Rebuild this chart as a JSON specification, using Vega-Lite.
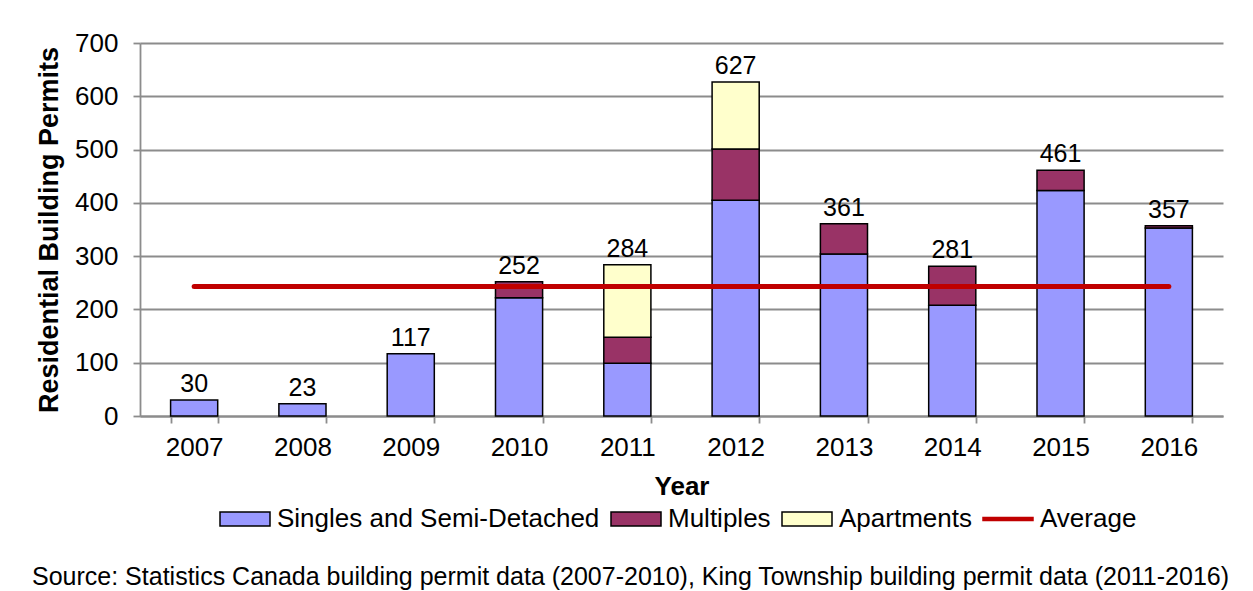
{
  "$schema": "https://vega.github.io/schema/vega-lite/v6.json",
  "width": 1083,
  "height": 373,
  "autosize": {"type": "none"},
  "padding": {"left": 140, "top": 43, "right": 30, "bottom": 175},
  "background": "white",
  "config": {
    "font": "Liberation Sans",
    "view": {"stroke": null},
    "axis": {
      "labelFont": "Liberation Sans",
      "labelFontSize": 26,
      "labelColor": "black",
      "titleFont": "Liberation Sans",
      "titleFontSize": 26,
      "titleFontWeight": "bold",
      "titleColor": "black",
      "domainColor": "#8c8c8c",
      "domainWidth": 1.8,
      "tickColor": "#8c8c8c",
      "tickWidth": 1.8,
      "tickSize": 7,
      "gridColor": "#8c8c8c",
      "gridWidth": 1.8
    },
    "legend": {
      "labelFont": "Liberation Sans",
      "labelFontSize": 26,
      "labelColor": "black",
      "labelLimit": 600
    }
  },
  "title": {
    "text": "Source: Statistics Canada building permit data (2007-2010), King Township building permit data (2011-2016)",
    "orient": "bottom",
    "anchor": "start",
    "frame": "group",
    "font": "Liberation Sans",
    "fontSize": 25,
    "fontWeight": "normal",
    "color": "black",
    "dx": -108,
    "offset": 33
  },
  "datasets": {
    "permits": [
      {"year": "2007", "type": "Singles and Semi-Detached", "permits": 30},
      {"year": "2008", "type": "Singles and Semi-Detached", "permits": 23},
      {"year": "2009", "type": "Singles and Semi-Detached", "permits": 117},
      {"year": "2010", "type": "Singles and Semi-Detached", "permits": 222},
      {"year": "2010", "type": "Multiples", "permits": 30},
      {"year": "2011", "type": "Singles and Semi-Detached", "permits": 99},
      {"year": "2011", "type": "Multiples", "permits": 49},
      {"year": "2011", "type": "Apartments", "permits": 136},
      {"year": "2012", "type": "Singles and Semi-Detached", "permits": 405},
      {"year": "2012", "type": "Multiples", "permits": 96},
      {"year": "2012", "type": "Apartments", "permits": 126},
      {"year": "2013", "type": "Singles and Semi-Detached", "permits": 304},
      {"year": "2013", "type": "Multiples", "permits": 57},
      {"year": "2014", "type": "Singles and Semi-Detached", "permits": 208},
      {"year": "2014", "type": "Multiples", "permits": 73},
      {"year": "2015", "type": "Singles and Semi-Detached", "permits": 423},
      {"year": "2015", "type": "Multiples", "permits": 38},
      {"year": "2016", "type": "Singles and Semi-Detached", "permits": 353},
      {"year": "2016", "type": "Multiples", "permits": 4}
    ],
    "average": [
      {"from": "2007", "to": "2016", "avg": 243}
    ]
  },
  "layer": [
    {
      "data": {"name": "permits"},
      "mark": {"type": "bar", "stroke": "black", "strokeWidth": 1.5},
      "encoding": {
        "x": {
          "field": "year",
          "type": "ordinal",
          "title": "Year",
          "scale": {"paddingInner": 0.565, "paddingOuter": 0.2825},
          "axis": {"labelAngle": 0, "tickBand": "extent", "labelPadding": 11, "titlePadding": 13, "grid": false}
        },
        "y": {
          "field": "permits",
          "type": "quantitative",
          "stack": "zero",
          "title": "Residential Building Permits",
          "scale": {"domain": [0, 700], "nice": false},
          "axis": {"values": [0, 100, 200, 300, 400, 500, 600, 700], "grid": true, "labelPadding": 15, "titlePadding": 11, "titleFontSize": 27}
        },
        "color": {
          "field": "type",
          "type": "nominal",
          "sort": ["Singles and Semi-Detached", "Multiples", "Apartments"],
          "scale": {
            "domain": ["Singles and Semi-Detached", "Multiples", "Apartments", "Average"],
            "range": ["#9999FF", "#993366", "#FFFFCC", "#C00000"]
          },
          "legend": {
            "title": null,
            "orient": "none",
            "direction": "horizontal",
            "legendX": 79,
            "legendY": 450,
            "padding": 0,
            "symbolType": "M-1,-0.28H1V0.28H-1Z",
            "symbolSize": 2500,
            "symbolStrokeColor": "black",
            "symbolStrokeWidth": 1.5,
            "labelOffset": 6,
            "columnPadding": 8,
            "encode": {
              "symbols": {
                "update": {
                  "shape": {"signal": "datum.value === 'Average' ? 'M-1,-0.06H1V0.06H-1Z' : 'M-1,-0.28H1V0.28H-1Z'"},
                  "stroke": {"signal": "datum.value === 'Average' ? '#C00000' : 'black'"},
                  "strokeWidth": {"value": 1.5},
                  "strokeOpacity": {"value": 1},
                  "fill": {"signal": "scale('color', datum.value)"},
                  "opacity": {"value": 1},
                  "fillOpacity": {"value": 1}
                }
              }
            }
          }
        }
      }
    },
    {
      "data": {"name": "permits"},
      "mark": {"type": "text", "baseline": "alphabetic", "dy": -8, "fontSize": 25, "font": "Liberation Sans", "color": "black"},
      "encoding": {
        "x": {"field": "year", "type": "ordinal"},
        "y": {"field": "permits", "aggregate": "sum", "type": "quantitative"},
        "text": {"field": "permits", "aggregate": "sum", "type": "quantitative"}
      }
    },
    {
      "data": {"name": "average"},
      "mark": {"type": "rule", "strokeWidth": 5, "strokeCap": "round", "color": "#C00000"},
      "encoding": {
        "x": {"field": "from", "type": "ordinal"},
        "x2": {"field": "to"},
        "y": {"field": "avg", "type": "quantitative"}
      }
    }
  ]
}
